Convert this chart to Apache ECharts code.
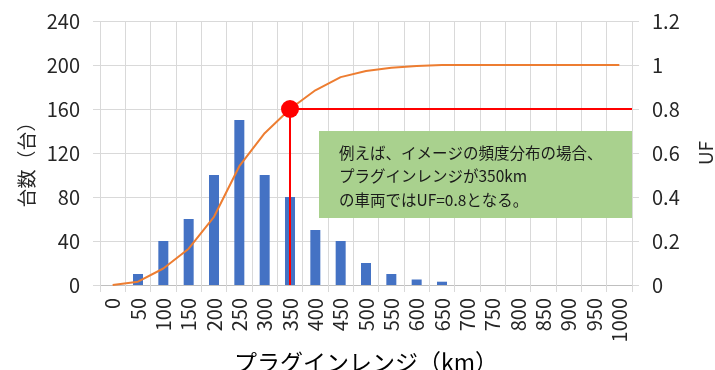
<!DOCTYPE html>
<html><head><meta charset="utf-8">
<script src="https://cdn.jsdelivr.net/npm/echarts@6/dist/echarts.min.js"></script>
<style>html,body{margin:0;padding:0;background:#fff}#c{width:715px;height:370px}</style>
</head><body><div id="c"></div>
<script>
const categories = ['0','50','100','150','200','250','300','350','400','450','500','550','600','650','700','750','800','850','900','950','1000'];
const counts = [0,10,40,60,100,150,100,80,50,40,20,10,5,3,0,0,0,0,0,0,0];
const uf = [0,0.015,0.075,0.165,0.31,0.54,0.69,0.8,0.885,0.945,0.973,0.988,0.995,1,1,1,1,1,1,1,1];
const countAxis = {min:0, max:240, interval:40};
const ufAxis = {min:0, max:1.2, interval:0.2};
const markerCategory = '350';
const markerUF = 0.8;
const noteLines = ['例えば、イメージの頻度分布の場合、','プラグインレンジが350km','の車両ではUF=0.8となる。'];

const FONT = '"Noto Sans CJK JP", "Noto Sans", sans-serif';
const GRID = {left:100, right:83, top:21, bottom:85};
const gridColor = '#d9d9d9';
const chart = echarts.init(document.getElementById('c'), null, {renderer:'canvas'});
chart.setOption({
  animation:false,
  textStyle:{fontFamily:FONT},
  grid:Object.assign({outerBoundsMode:'none', containLabel:false}, GRID),
  xAxis:{
    type:'category', data:categories, boundaryGap:true,
    axisLine:{lineStyle:{color:'#bfbfbf'}},
    axisTick:{show:true, length:7, interval:0, lineStyle:{color:gridColor}},
    splitLine:{show:true, interval:0, lineStyle:{color:gridColor}},
    axisLabel:{rotate:90, interval:0, fontSize:20, color:'#262626', margin:13, fontFamily:FONT},
    name:'プラグインレンジ（km）', nameLocation:'middle', nameGap:54,
    nameTextStyle:{fontSize:23, color:'#000', fontFamily:FONT}
  },
  yAxis:[{
    type:'value', min:countAxis.min, max:countAxis.max, interval:countAxis.interval,
    axisLine:{show:false},
    axisTick:{show:true, length:7, lineStyle:{color:gridColor}},
    splitLine:{show:true, lineStyle:{color:gridColor}},
    axisLabel:{fontSize:20, color:'#262626', margin:20, fontFamily:FONT},
    name:'台数（台）', nameLocation:'middle', nameRotate:90, nameGap:64,
    nameTextStyle:{fontSize:19, color:'#262626', fontFamily:FONT, padding:[0,14,0,0]}
  },{
    type:'value', position:'right', min:ufAxis.min, max:ufAxis.max, interval:ufAxis.interval,
    axisLine:{show:false},
    axisTick:{show:true, length:7, lineStyle:{color:gridColor}},
    splitLine:{show:false},
    axisLabel:{fontSize:20, color:'#262626', margin:20, fontFamily:FONT},
    name:'UF', nameLocation:'middle', nameRotate:90, nameGap:64,
    nameTextStyle:{fontSize:19, color:'#262626', fontFamily:FONT}
  }],
  series:[{
    type:'bar', data:counts, yAxisIndex:0, barWidth:10,
    itemStyle:{color:'#4472c4'}
  },{
    type:'line', data:uf, yAxisIndex:1, symbol:'none', smooth:false,
    lineStyle:{color:'#ed7d31', width:2}
  }]
});

const p = chart.convertToPixel({xAxisIndex:0, yAxisIndex:1}, [markerCategory, markerUF]);
const p0 = chart.convertToPixel({xAxisIndex:0, yAxisIndex:1}, [markerCategory, ufAxis.min]);
const rightEdge = chart.getWidth() - GRID.right;
chart.setOption({
  graphic:[
    {type:'rect', shape:{x:319, y:131, width:rightEdge-319, height:87}, style:{fill:'#a9d18e'}, z:50},
    {type:'text', x:339, y:141, style:{text:noteLines.join('\n'), font:'15.5px '+FONT, lineHeight:23.5, fill:'#1a1a1a'}, z:51},
    {type:'line', shape:{x1:p0[0], y1:p0[1], x2:p[0], y2:p[1]}, style:{stroke:'#ff0000', lineWidth:2}, z:60},
    {type:'line', shape:{x1:p[0], y1:p[1], x2:rightEdge, y2:p[1]}, style:{stroke:'#ff0000', lineWidth:2}, z:60},
    {type:'circle', shape:{cx:p[0], cy:p[1], r:9}, style:{fill:'#ff0000'}, z:61}
  ]
});
</script>
</body></html>
